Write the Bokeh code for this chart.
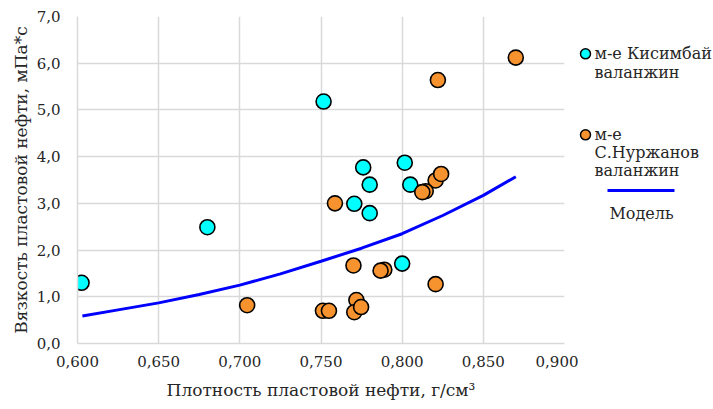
from bokeh.plotting import figure
from bokeh.layouts import row
from bokeh.models import Range1d, FixedTicker, CustomJSTickFormatter, ColumnDataSource
from bokeh.core.properties import value
from bokeh.embed import file_html
from bokeh.resources import INLINE

# Kisimbay field, Valanginian: density (g/cm3) vs viscosity (mPa*s)
kisimbay_density = [0.6025, 0.680, 0.7516, 0.776, 0.8016, 0.780, 0.805, 0.7705, 0.780, 0.800]
kisimbay_viscosity = [1.30, 2.49, 5.18, 3.77, 3.87, 3.40, 3.40, 2.99, 2.79, 1.71]

# S. Nurzhanov field, Valanginian
nurzhanov_density = [0.870, 0.822, 0.8206, 0.824, 0.8145, 0.8124, 0.7586, 0.770, 0.789,
                     0.7867, 0.8206, 0.7512, 0.7549, 0.7718, 0.7705, 0.7747, 0.7045]
nurzhanov_viscosity = [6.12, 5.64, 3.49, 3.63, 3.26, 3.24, 3.00, 1.67, 1.58,
                       1.56, 1.27, 0.70, 0.70, 0.93, 0.67, 0.78, 0.82]

# Model curve
model_density = [0.603, 0.625, 0.650, 0.675, 0.700, 0.725, 0.750, 0.775, 0.800, 0.825, 0.850, 0.870]
model_viscosity = [0.59, 0.72, 0.87, 1.05, 1.25, 1.49, 1.76, 2.04, 2.35, 2.74, 3.17, 3.57]

x_ticks = [0.600, 0.650, 0.700, 0.750, 0.800, 0.850, 0.900]
y_ticks = [0, 1, 2, 3, 4, 5, 6, 7]

series_names = ["м-е Кисимбай\nваланжин", "м-е\nС.Нуржанов\nваланжин", "Модель"]
x_title = "Плотность пластовой нефти, г/см³"
y_title = "Вязкость пластовой нефти, мПа*с"

FONT = "DejaVu Serif"
TEXT = "#262626"
GRID = "#D9D9D9"
CYAN = "#00FFFF"
ORANGE = "#F7932F"
BLUE = "#0000FF"

p = figure(width=578, height=409, output_backend="svg", toolbar_location=None,
           x_range=Range1d(0.6, 0.9), y_range=Range1d(0, 7),
           min_border_left=77, min_border_right=14, min_border_top=16, min_border_bottom=66)
p.outline_line_color = None
p.background_fill_color = "white"
p.border_fill_color = "white"

p.xaxis.ticker = FixedTicker(ticks=x_ticks)
p.yaxis.ticker = FixedTicker(ticks=y_ticks)
p.xaxis.formatter = CustomJSTickFormatter(code="return tick.toFixed(3).replace('.', ',');")
p.yaxis.formatter = CustomJSTickFormatter(code="return tick.toFixed(1).replace('.', ',');")

for ax in (p.xaxis, p.yaxis):
    ax.major_tick_line_color = None
    ax.minor_tick_line_color = None
    ax.major_tick_out = 0
    ax.major_tick_in = 0
    ax.axis_line_color = GRID
    ax.axis_line_width = 1.5
    ax.major_label_text_font = FONT
    ax.major_label_text_font_size = "15px"
    ax.major_label_text_color = TEXT
    ax.axis_label_text_font = FONT
    ax.axis_label_text_font_size = "17px"
    ax.axis_label_text_font_style = "normal"
    ax.axis_label_text_color = TEXT

p.xaxis.axis_label = x_title
p.yaxis.axis_label = y_title
p.xaxis.major_label_standoff = 12
p.xaxis.axis_label_standoff = 10
p.yaxis.major_label_standoff = 17
p.yaxis.axis_label_standoff = 3

p.xgrid.grid_line_color = GRID
p.ygrid.grid_line_color = GRID
p.xgrid.grid_line_width = 1.5
p.ygrid.grid_line_width = 1.5

p.scatter(kisimbay_density, kisimbay_viscosity, size=15, fill_color=CYAN,
          line_color="black", line_width=1.6)
p.scatter(nurzhanov_density, nurzhanov_viscosity, size=15, fill_color=ORANGE,
          line_color="black", line_width=1.6)
p.line(model_density, model_viscosity, line_color=BLUE, line_width=3)

# Legend panel, laid out in pixel coordinates
lg = figure(width=135, height=409, output_backend="svg", toolbar_location=None,
            x_range=Range1d(578, 713), y_range=Range1d(409, 0),
            min_border=0, x_axis_location=None, y_axis_location=None)
lg.outline_line_color = None
lg.grid.visible = False
lg.background_fill_color = "white"
lg.border_fill_color = "white"

lg.scatter([585], [46.7], size=10, fill_color=CYAN, line_color="black", line_width=1.5)
lg.scatter([585], [148], size=10, fill_color=ORANGE, line_color="black", line_width=1.5)
lg.line([607, 674], [217.7, 217.7], line_color=BLUE, line_width=3)

lines1 = series_names[0].split("\n")
lines2 = series_names[1].split("\n")
src = ColumnDataSource(dict(
    x=[594] * len(lines1) + [594] * len(lines2),
    y=[46.7 + 23.3 * i for i in range(len(lines1))] + [148 + 22 * i for i in range(len(lines2))],
    t=lines1 + lines2,
))
lg.text(x="x", y="y", text="t", source=src, text_font=value(FONT),
        text_font_size=value("16px"), text_color=TEXT,
        text_baseline="middle", text_align="left")
lg.text(x=[641], y=[246], text=[series_names[2]], text_font=value(FONT),
        text_font_size=value("16px"), text_color=TEXT,
        text_baseline="middle", text_align="center")

layout = row(p, lg)
open("out.html", "w").write(file_html(layout, INLINE))
